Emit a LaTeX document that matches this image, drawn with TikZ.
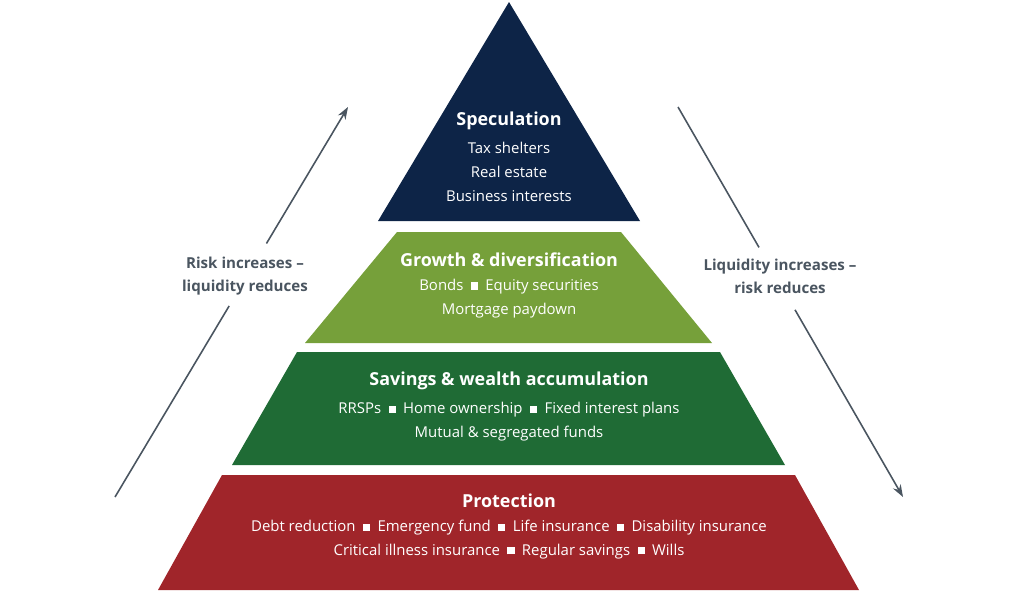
\documentclass[tikz,border=0pt]{standalone}
\usepackage{fontspec}
\setmainfont{Open Sans}
\usetikzlibrary{arrows.meta, calc, positioning}
\definecolor{navy}{HTML}{0D2447}
\definecolor{lightgreen}{HTML}{76A03A}
\definecolor{darkgreen}{HTML}{1F6B35}
\definecolor{darkred}{HTML}{A0252A}
\definecolor{arrowgray}{HTML}{4A5560}
\newcommand{\sq}{\enspace\rule[0.15ex]{4pt}{4pt}\enspace}
\begin{document}
\begin{tikzpicture}[
    x=0.02cm, y=-0.02cm,
    title/.style={text=white, font=\bfseries\fontsize{10.2}{12}\selectfont},
    items/.style={text=white, align=center, font=\fontsize{8.5}{13.5}\selectfont},
    side/.style={text=arrowgray, align=center, font=\bfseries\fontsize{8.6}{13}\selectfont},
    trend/.style={arrowgray, line width=0.9pt, -{Stealth[length=7pt,width=5pt]}}
]
  \useasboundingbox (0,0) rectangle (1024,596);
  % pyramid bands
  \fill[navy] (509,2) -- (640,221) -- (378,221) -- cycle;
  \fill[lightgreen] (397,232) -- (621,232) -- (712,343) -- (305,343) -- cycle;
  \fill[darkgreen] (297,352) -- (720,352) -- (785,465) -- (232,465) -- cycle;
  \fill[darkred] (222,475) -- (795,475) -- (859,590) -- (158,590) -- cycle;

  % texts in bands
  \node[title] (spec) at (509,121) {Speculation};
  \node[items, below=0pt of spec] (specitems) {Tax shelters\\Real estate\\Business interests};
  \node[title] (growth) at (509,260) {Growth \& diversification};
  \node[items, below=0pt of growth] (growthitems) {Bonds\sq Equity securities\\Mortgage paydown};
  \node[title] (sav) at (509,381) {Savings \& wealth accumulation};
  \node[items, below=0pt of sav] (savitems) {RRSPs\sq Home ownership\sq Fixed interest plans\\Mutual \& segregated funds};
  \node[title] (prot) at (509,501) {Protection};
  \node[items, below=0pt of prot] (protitems) {Debt reduction\sq Emergency fund\sq Life insurance\sq Disability insurance\\Critical illness insurance\sq Regular savings\sq Wills};

  % side arrows
  \node[side] (risk) at (245,276) {Risk increases --\\liquidity reduces};
  \node[side] (liq) at (780,276) {Liquidity increases --\\risk reduces};
  \coordinate (lstart) at (115,497);
  \coordinate (lend) at (348,107);
  \coordinate (rstart) at (678,107);
  \coordinate (rend) at (903,497);
  \draw[arrowgray, line width=0.9pt] (lstart) -- ($(lstart)!0.49!(lend)$);
  \draw[trend] ($(lstart)!0.65!(lend)$) -- (lend);
  \draw[arrowgray, line width=0.9pt] (rstart) -- ($(rstart)!0.36!(rend)$);
  \draw[trend] ($(rstart)!0.52!(rend)$) -- (rend);
\end{tikzpicture}
\end{document}
